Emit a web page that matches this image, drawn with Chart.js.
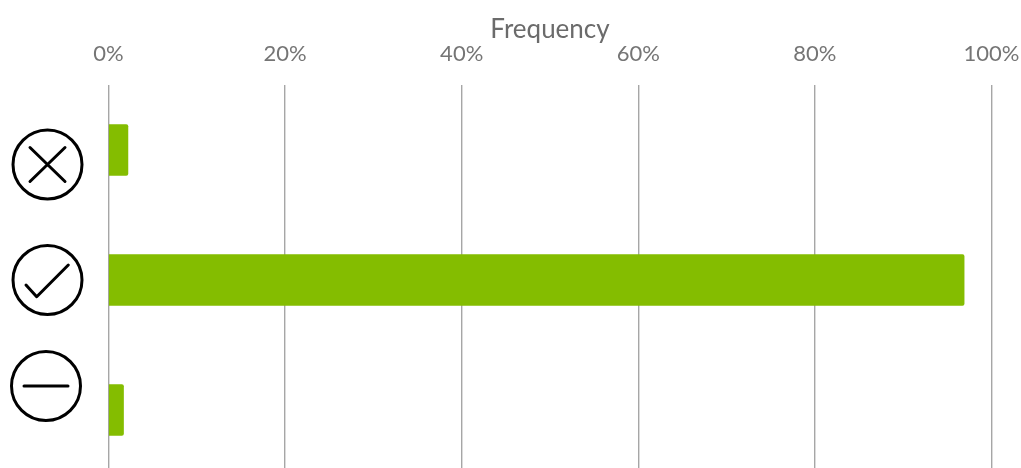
<!DOCTYPE html>
<html>
<head>
<meta charset="utf-8">
<title>Frequency</title>
<script src="https://cdn.jsdelivr.net/npm/chart.js@4"></script>
<style>
    html, body { margin: 0; padding: 0; background: #fff; overflow: hidden; }
    #wrap { width: 1021px; height: 468px; overflow: hidden; }
    #wrap div { width: 1021px; height: 475px; position: relative; }
</style>
</head>
<body>
<div id="wrap"><div><canvas id="chart"></canvas></div></div>
<script>
const categories = ['wrong', 'correct', 'neutral'];
const frequency = [2.2, 96.9, 1.7];
const tickValues = [0, 20, 40, 60, 80, 100];

// the category labels are icons in the original, drawn next to the axis
const iconSpots = {
    wrong: { x: 47.5, dy: 14.5 },
    correct: { x: 47.5, dy: 0 },
    neutral: { x: 46, dy: -24 }
};

const iconPlugin = {
    id: 'icons',
    afterDraw(chart) {
        const c = chart.ctx;
        const yScale = chart.scales.y;
        categories.forEach((name, i) => {
            const spot = iconSpots[name];
            const cx = spot.x;
            const cy = yScale.getPixelForValue(i) + spot.dy;
            c.save();
            c.strokeStyle = '#000';
            c.lineWidth = 3;
            c.lineCap = 'round';
            c.lineJoin = 'round';
            c.beginPath();
            c.arc(cx, cy, 34.5, 0, Math.PI * 2);
            c.stroke();
            c.beginPath();
            if (name === 'wrong') {
                c.moveTo(cx - 17.5, cy - 17);
                c.lineTo(cx + 17.5, cy + 17);
                c.moveTo(cx + 17.5, cy - 17);
                c.lineTo(cx - 17.5, cy + 17);
            } else if (name === 'correct') {
                c.moveTo(cx - 21.5, cy + 5);
                c.lineTo(cx - 10.8, cy + 16.7);
                c.lineTo(cx + 20.8, cy - 15);
            } else {
                c.moveTo(cx - 22, cy);
                c.lineTo(cx + 22, cy);
            }
            c.stroke();
            c.restore();
        });
    }
};

const ctx = document.getElementById('chart').getContext('2d');
new Chart(ctx, {
    type: 'bar',
    data: {
        labels: categories,
        datasets: [{
            label: 'Frequency',
            data: frequency,
            backgroundColor: '#84bd00',
            barThickness: 51,
            borderRadius: { topRight: 2, bottomRight: 2 },
            borderSkipped: 'left'
        }]
    },
    options: {
        indexAxis: 'y',
        responsive: true,
        maintainAspectRatio: false,
        animation: false,
        layout: { padding: { right: 29.5 } },
        plugins: {
            legend: { display: false },
            tooltip: { enabled: false }
        },
        scales: {
            x: {
                position: 'top',
                min: 0,
                max: 100,
                afterFit(scale) {
                    scale.height = 85;
                    scale.paddingLeft = 0;
                    scale.paddingRight = 0;
                },
                afterBuildTicks(scale) { scale.ticks = tickValues.map(v => ({ value: v })); },
                title: {
                    display: true,
                    text: 'Frequency',
                    color: '#6b6b6b',
                    font: { family: 'Lato', size: 26 },
                    padding: { top: 14, bottom: 0 }
                },
                ticks: {
                    color: '#757575',
                    font: { family: 'Lato', size: 22 },
                    padding: 18,
                    maxRotation: 0,
                    callback: v => v + '%'
                },
                grid: { color: '#a6a6a6', lineWidth: 1.4, drawTicks: false },
                border: { display: false }
            },
            y: {
                afterFit(scale) { scale.width = 108.5; },
                ticks: { display: false },
                grid: { display: false },
                border: { display: false }
            }
        }
    },
    plugins: [iconPlugin]
});
</script>
</body>
</html>
